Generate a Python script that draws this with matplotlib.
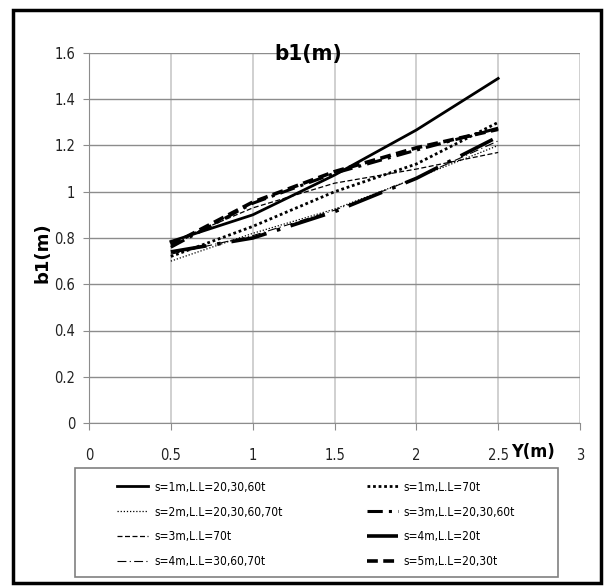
import numpy as np
from matplotlib import pyplot as plt
from matplotlib import patches

plt.rcParams['font.family'] = ['DejaVu Sans']
plt.rcParams['font.stretch'] = 'condensed'

y_pos = [0.5, 1.0, 1.5, 2.0, 2.5]

labels = ['s=1m,L.L=20,30,60t', 's=1m,L.L=70t',
          's=2m,L.L=20,30,60,70t', 's=3m,L.L=20,30,60t',
          's=3m,L.L=70t', 's=4m,L.L=20t',
          's=4m,L.L=30,60,70t', 's=5m,L.L=20,30t']

s1_a = [0.785, 0.90, 1.072, 1.267, 1.49]
s1_b = [0.72, 0.85, 1.00, 1.12, 1.30]
s2 = [0.70, 0.82, 0.925, 1.06, 1.20]
s3_a = [0.76, 0.95, 1.08, 1.18, 1.275]
s3_b = [0.78, 0.93, 1.037, 1.098, 1.17]
s4_a = [0.74, 0.80, 0.914, 1.058, 1.238]
s4_b = [0.73, 0.81, 0.92, 1.06, 1.22]
s5 = [0.77, 0.955, 1.087, 1.19, 1.27]

series = [s1_a, s1_b, s2, s3_a, s3_b, s4_a, s4_b, s5]
styles = [
    dict(ls='-', lw=2.0),
    dict(ls=(0, (1, 1)), lw=2.0),
    dict(ls=(0, (1, 1.5)), lw=0.9),
    dict(ls=(0, (5, 2, 1, 2)), lw=2.2),
    dict(ls=(0, (4, 2)), lw=0.9),
    dict(ls=(0, (10, 3, 1, 3)), lw=2.6),
    dict(ls=(0, (8, 3, 1, 3)), lw=0.8),
    dict(ls=(0, (3, 1.5)), lw=2.6),
]

fig = plt.figure(figsize=(6.06, 5.87), dpi=100)
ax = fig.add_axes([89/606, 1-423/587, (580-89)/606, (423-53)/587])

lines = []
for vals, st, lab in zip(series, styles, labels):
    l, = ax.plot(y_pos, vals, color='black', label=lab, **st)
    lines.append(l)

ax.set_xlim(0, 3)
ax.set_ylim(0, 1.6)
ax.set_xticks(np.arange(0, 3.01, 0.5))
ax.set_xticklabels(['0', '0.5', '1', '1.5', '2', '2.5', '3'])
ax.set_yticks(np.arange(0, 1.61, 0.2))
ax.set_yticklabels(['0', '0.2', '0.4', '0.6', '0.8', '1', '1.2', '1.4', '1.6'])
ax.grid(axis='y', color='#8c8c8c', lw=1.0)
ax.grid(axis='x', color='#c8c8c8', lw=1.2)
ax.set_axisbelow(True)
for sp in ['top', 'right']:
    ax.spines[sp].set_visible(False)
for sp in ['left', 'bottom']:
    ax.spines[sp].set_color('#8c8c8c')
ax.tick_params(axis='x', colors='#8c8c8c', labelcolor='#222222', length=5, pad=13, labelsize=10.5)
ax.tick_params(axis='y', colors='#8c8c8c', labelcolor='#222222', length=4, pad=6, labelsize=10.5)

fig.text(308/606, 1-54/587, 'b1(m)', ha='center', va='center', fontsize=16, fontweight='bold')
fig.text(533/606, 1-452/587, 'Y(m)', ha='center', va='center', fontsize=13, fontweight='bold')
fig.text(42/606, 1-253/587, 'b1(m)', ha='center', va='center', fontsize=13, fontweight='bold',
         rotation=90, fontstretch='normal')

# legend frame drawn separately, legend entries spread inside it
fig.patches.append(patches.Rectangle((75/606, 1-577/587), (558-75)/606, (577-468)/587,
                                     transform=fig.transFigure, fill=False, lw=1.2,
                                     edgecolor='#808080'))
order = [0, 2, 4, 6, 1, 3, 5, 7]
leg = fig.legend([lines[i] for i in order], [labels[i] for i in order], ncol=2,
                 loc='center left', bbox_to_anchor=(117/606, 1-575/587, (515-117)/606, (575-474)/587),
                 mode='expand', fontsize=8.6, frameon=False, borderpad=0, borderaxespad=0,
                 handlelength=2.6, handletextpad=0.5, labelspacing=1.0)

fig.patches.append(patches.Rectangle((13/606, 1-583/587), (601-13)/606, (583-10)/587,
                                     transform=fig.transFigure, fill=False, lw=2.5,
                                     edgecolor='black'))

fig.savefig('out.png', dpi=100)
